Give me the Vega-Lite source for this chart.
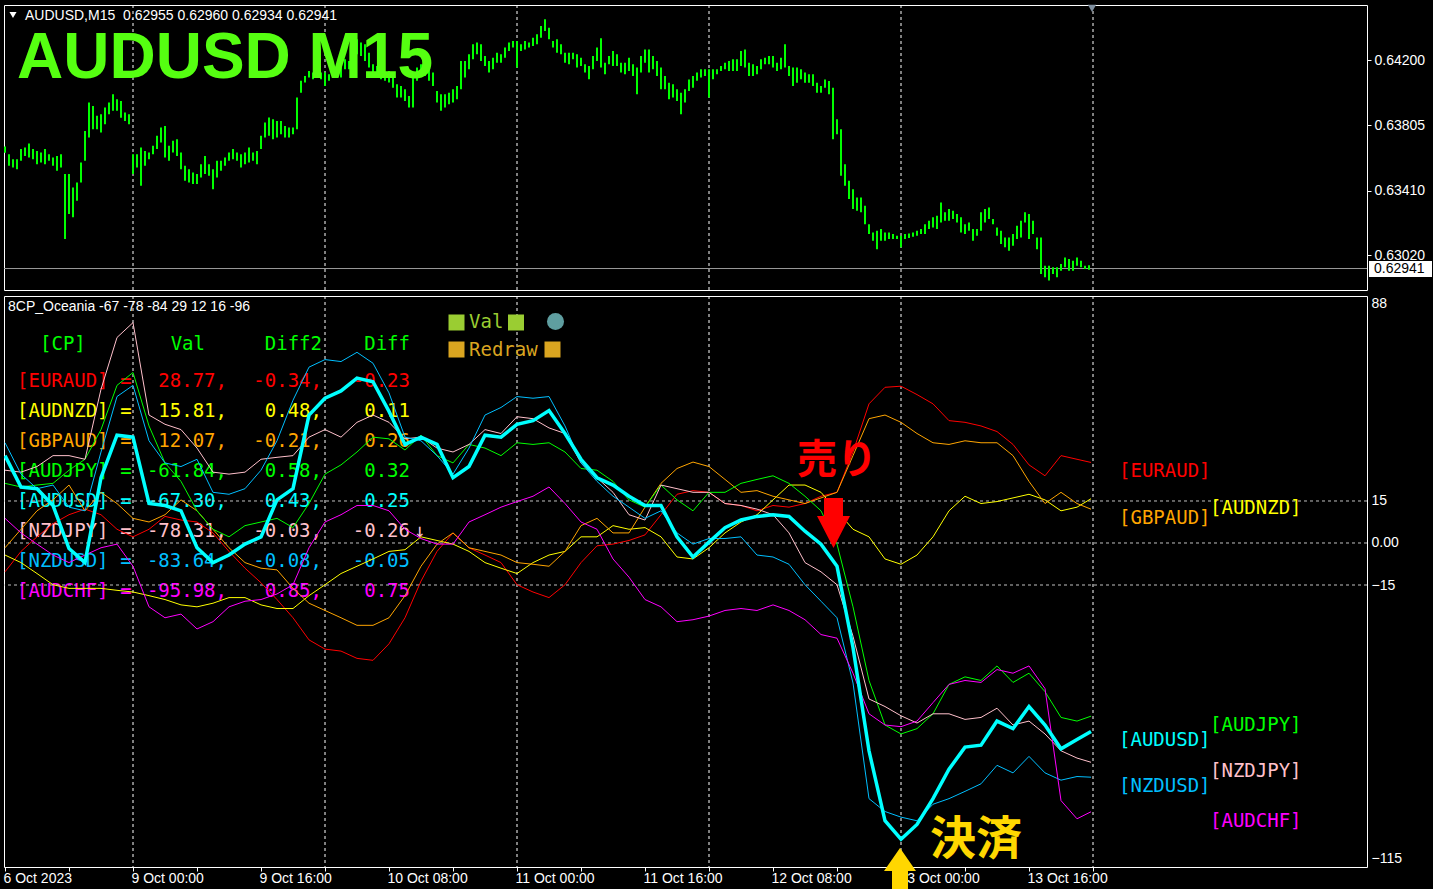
{
"$schema":"https://vega.github.io/schema/vega-lite/v6.json",
"background":"#000000",
"padding":{"left":2,"top":4,"right":0,"bottom":0},
"spacing":4,
"config":{"view":{"stroke":"#ffffff","strokeWidth":1},"axis":{"labelColor":"#ffffff","tickColor":"#ffffff","domain":false,"grid":false,"labelFont":"Liberation Sans","labelFontSize":14}},
"datasets":{
"seps":[{"t":64},{"t":160},{"t":256},{"t":352},{"t":448},{"t":544}],
"levels":[{"v":15},{"v":0},{"v":-15}],
"table":[
{"series":"EURAUD","cp":"[EURAUD]","val":"28.77,","d2":"-0.34,","d":"-0.23","m":"","last":28.77},
{"series":"AUDNZD","cp":"[AUDNZD]","val":"15.81,","d2":"0.48,","d":"0.11","m":"","last":15.81},
{"series":"GBPAUD","cp":"[GBPAUD]","val":"12.07,","d2":"-0.21,","d":"0.26","m":"","last":12.07},
{"series":"AUDJPY","cp":"[AUDJPY]","val":"-61.84,","d2":"0.58,","d":"0.32","m":"","last":-61.84},
{"series":"AUDUSD","cp":"[AUDUSD]","val":"-67.30,","d2":"0.43,","d":"0.25","m":"","last":-67.3},
{"series":"NZDJPY","cp":"[NZDJPY]","val":"-78.31,","d2":"-0.03,","d":"-0.26","m":"↓","last":-78.31},
{"series":"NZDUSD","cp":"[NZDUSD]","val":"-83.64,","d2":"-0.08,","d":"-0.05","m":"","last":-83.64},
{"series":"AUDCHF","cp":"[AUDCHF]","val":"-95.98,","d2":"0.85,","d":"0.75","m":"","last":-95.98}
],
"ind":[
{"t":0,"EURAUD":-10.3,"AUDNZD":-4.3,"GBPAUD":-1.7,"AUDJPY":21.3,"AUDUSD":31.2,"NZDJPY":26.0,"NZDUSD":35.8,"AUDCHF":8.8},
{"t":8,"EURAUD":-3.0,"AUDNZD":-7.0,"GBPAUD":4.9,"AUDJPY":20.0,"AUDUSD":20.0,"NZDJPY":25.3,"NZDUSD":24.6,"AUDCHF":3.6},
{"t":16,"EURAUD":2.2,"AUDNZD":-10.9,"GBPAUD":11.5,"AUDJPY":20.7,"AUDUSD":19.4,"NZDJPY":27.3,"NZDUSD":19.4,"AUDCHF":-0.4},
{"t":24,"EURAUD":6.9,"AUDNZD":-14.9,"GBPAUD":15.4,"AUDJPY":21.3,"AUDUSD":13.4,"NZDJPY":31.2,"NZDUSD":20.7,"AUDCHF":-4.3},
{"t":32,"EURAUD":10.1,"AUDNZD":-16.2,"GBPAUD":20.7,"AUDJPY":26.0,"AUDUSD":-2.0,"NZDJPY":31.2,"NZDUSD":12.8,"AUDCHF":-7.0},
{"t":40,"EURAUD":12.1,"AUDNZD":-16.2,"GBPAUD":11.5,"AUDJPY":29.9,"AUDUSD":-7.0,"NZDJPY":29.9,"NZDUSD":11.5,"AUDCHF":-4.3},
{"t":48,"EURAUD":10.1,"AUDNZD":-16.2,"GBPAUD":18.1,"AUDJPY":40.5,"AUDUSD":23.3,"NZDJPY":54.9,"NZDUSD":32.5,"AUDCHF":-1.7},
{"t":56,"EURAUD":4.9,"AUDNZD":-16.9,"GBPAUD":14.1,"AUDJPY":56.3,"AUDUSD":38.5,"NZDJPY":73.4,"NZDUSD":52.3,"AUDCHF":-0.4},
{"t":64,"EURAUD":2.2,"AUDNZD":-17.5,"GBPAUD":8.8,"AUDJPY":60.9,"AUDUSD":37.8,"NZDJPY":78.7,"NZDUSD":56.3,"AUDCHF":-8.3},
{"t":72,"EURAUD":4.9,"AUDNZD":-18.8,"GBPAUD":7.5,"AUDJPY":41.8,"AUDUSD":14.1,"NZDJPY":45.7,"NZDUSD":36.5,"AUDCHF":-22.8},
{"t":80,"EURAUD":9.5,"AUDNZD":-20.2,"GBPAUD":10.1,"AUDJPY":28.6,"AUDUSD":13.4,"NZDJPY":42.4,"NZDUSD":28.6,"AUDCHF":-26.7},
{"t":88,"EURAUD":8.2,"AUDNZD":-22.1,"GBPAUD":15.4,"AUDJPY":22.0,"AUDUSD":11.5,"NZDJPY":40.5,"NZDUSD":27.3,"AUDCHF":-25.4},
{"t":96,"EURAUD":7.5,"AUDNZD":-22.8,"GBPAUD":11.5,"AUDJPY":11.5,"AUDUSD":-1.7,"NZDJPY":33.9,"NZDUSD":29.9,"AUDCHF":-30.7},
{"t":104,"EURAUD":3.6,"AUDNZD":-21.5,"GBPAUD":4.9,"AUDJPY":4.9,"AUDUSD":-7.0,"NZDJPY":25.3,"NZDUSD":18.1,"AUDCHF":-28.1},
{"t":112,"EURAUD":-3.0,"AUDNZD":-19.5,"GBPAUD":-1.7,"AUDJPY":2.2,"AUDUSD":-4.3,"NZDJPY":24.6,"NZDUSD":17.4,"AUDCHF":-22.8},
{"t":120,"EURAUD":-9.0,"AUDNZD":-19.5,"GBPAUD":-7.0,"AUDJPY":6.2,"AUDUSD":-0.4,"NZDJPY":25.3,"NZDUSD":19.4,"AUDCHF":-20.8},
{"t":128,"EURAUD":-14.2,"AUDNZD":-22.1,"GBPAUD":-9.0,"AUDJPY":7.5,"AUDUSD":2.2,"NZDJPY":29.9,"NZDUSD":26.0,"AUDCHF":-20.2},
{"t":136,"EURAUD":-20.2,"AUDNZD":-23.4,"GBPAUD":-9.6,"AUDJPY":8.8,"AUDUSD":15.4,"NZDJPY":30.6,"NZDUSD":36.5,"AUDCHF":-18.2},
{"t":144,"EURAUD":-26.7,"AUDNZD":-23.4,"GBPAUD":-16.2,"AUDJPY":5.5,"AUDUSD":19.4,"NZDJPY":31.2,"NZDUSD":51.0,"AUDCHF":-14.9},
{"t":152,"EURAUD":-34.6,"AUDNZD":-18.8,"GBPAUD":-21.5,"AUDJPY":14.1,"AUDUSD":45.7,"NZDJPY":37.8,"NZDUSD":62.8,"AUDCHF":-1.7},
{"t":160,"EURAUD":-37.9,"AUDNZD":-14.9,"GBPAUD":-24.1,"AUDJPY":24.6,"AUDUSD":51.7,"NZDJPY":40.5,"NZDUSD":65.5,"AUDCHF":7.5},
{"t":168,"EURAUD":-38.6,"AUDNZD":-10.9,"GBPAUD":-26.7,"AUDJPY":27.9,"AUDUSD":54.3,"NZDJPY":37.8,"NZDUSD":64.8,"AUDCHF":10.1},
{"t":176,"EURAUD":-41.2,"AUDNZD":-8.3,"GBPAUD":-29.4,"AUDJPY":32.5,"AUDUSD":58.9,"NZDJPY":43.1,"NZDUSD":68.1,"AUDCHF":13.4},
{"t":184,"EURAUD":-41.9,"AUDNZD":-5.7,"GBPAUD":-29.4,"AUDJPY":37.8,"AUDUSD":57.6,"NZDJPY":45.7,"NZDUSD":64.2,"AUDCHF":13.4},
{"t":192,"EURAUD":-36.0,"AUDNZD":-3.0,"GBPAUD":-26.7,"AUDJPY":37.2,"AUDUSD":47.0,"NZDJPY":43.1,"NZDUSD":53.6,"AUDCHF":11.5},
{"t":200,"EURAUD":-26.7,"AUDNZD":-2.4,"GBPAUD":-18.8,"AUDJPY":33.2,"AUDUSD":35.2,"NZDJPY":37.2,"NZDUSD":37.8,"AUDCHF":4.9},
{"t":208,"EURAUD":-13.6,"AUDNZD":2.2,"GBPAUD":-8.3,"AUDJPY":38.5,"AUDUSD":37.8,"NZDJPY":37.8,"NZDUSD":36.5,"AUDCHF":1.6},
{"t":216,"EURAUD":-3.0,"AUDNZD":0.9,"GBPAUD":-0.4,"AUDJPY":31.2,"AUDUSD":35.2,"NZDJPY":33.9,"NZDUSD":31.2,"AUDCHF":-0.4},
{"t":224,"EURAUD":3.6,"AUDNZD":-0.4,"GBPAUD":3.6,"AUDJPY":28.6,"AUDUSD":23.3,"NZDJPY":32.5,"NZDUSD":24.6,"AUDCHF":-0.4},
{"t":232,"EURAUD":-1.7,"AUDNZD":-3.0,"GBPAUD":-1.7,"AUDJPY":35.2,"AUDUSD":27.3,"NZDJPY":35.2,"NZDUSD":33.9,"AUDCHF":7.5},
{"t":240,"EURAUD":-4.3,"AUDNZD":-7.0,"GBPAUD":-3.0,"AUDJPY":33.9,"AUDUSD":38.5,"NZDJPY":40.5,"NZDUSD":45.7,"AUDCHF":10.1},
{"t":248,"EURAUD":-7.0,"AUDNZD":-9.0,"GBPAUD":-4.3,"AUDJPY":31.2,"AUDUSD":37.8,"NZDJPY":39.1,"NZDUSD":48.4,"AUDCHF":12.8},
{"t":256,"EURAUD":-14.9,"AUDNZD":-10.9,"GBPAUD":-7.0,"AUDJPY":35.8,"AUDUSD":42.4,"NZDJPY":45.1,"NZDUSD":52.3,"AUDCHF":14.8},
{"t":264,"EURAUD":-17.5,"AUDNZD":-7.0,"GBPAUD":-7.6,"AUDJPY":35.2,"AUDUSD":43.7,"NZDJPY":44.4,"NZDUSD":51.7,"AUDCHF":16.7},
{"t":272,"EURAUD":-19.5,"AUDNZD":-4.3,"GBPAUD":-8.3,"AUDJPY":35.8,"AUDUSD":47.3,"NZDJPY":41.1,"NZDUSD":52.3,"AUDCHF":20.0},
{"t":280,"EURAUD":-14.9,"AUDNZD":-3.0,"GBPAUD":-3.0,"AUDJPY":32.5,"AUDUSD":39.1,"NZDJPY":39.1,"NZDUSD":41.8,"AUDCHF":14.1},
{"t":288,"EURAUD":-7.0,"AUDNZD":2.2,"GBPAUD":6.2,"AUDJPY":26.6,"AUDUSD":29.9,"NZDJPY":28.6,"NZDUSD":28.6,"AUDCHF":7.5},
{"t":296,"EURAUD":-1.0,"AUDNZD":2.2,"GBPAUD":8.8,"AUDJPY":26.0,"AUDUSD":23.3,"NZDJPY":23.3,"NZDUSD":22.0,"AUDCHF":4.9},
{"t":304,"EURAUD":-0.4,"AUDNZD":6.2,"GBPAUD":3.6,"AUDJPY":22.0,"AUDUSD":20.7,"NZDJPY":18.1,"NZDUSD":16.7,"AUDCHF":-5.7},
{"t":312,"EURAUD":0.9,"AUDNZD":4.9,"GBPAUD":3.6,"AUDJPY":15.4,"AUDUSD":16.7,"NZDJPY":10.1,"NZDUSD":12.8,"AUDCHF":-12.2},
{"t":320,"EURAUD":2.9,"AUDNZD":5.5,"GBPAUD":12.8,"AUDJPY":12.8,"AUDUSD":13.4,"NZDJPY":8.2,"NZDUSD":8.8,"AUDCHF":-20.2},
{"t":328,"EURAUD":10.1,"AUDNZD":2.2,"GBPAUD":21.3,"AUDJPY":20.7,"AUDUSD":13.4,"NZDJPY":20.7,"NZDUSD":11.5,"AUDCHF":-22.8},
{"t":336,"EURAUD":17.4,"AUDNZD":-5.0,"GBPAUD":26.6,"AUDJPY":15.4,"AUDUSD":2.2,"NZDJPY":19.4,"NZDUSD":3.6,"AUDCHF":-28.1},
{"t":344,"EURAUD":18.7,"AUDNZD":-5.7,"GBPAUD":28.9,"AUDJPY":11.5,"AUDUSD":-5.0,"NZDJPY":18.1,"NZDUSD":-0.4,"AUDCHF":-27.4},
{"t":352,"EURAUD":18.1,"AUDNZD":-1.7,"GBPAUD":27.3,"AUDJPY":18.1,"AUDUSD":0.3,"NZDJPY":18.1,"NZDUSD":1.6,"AUDCHF":-26.1},
{"t":360,"EURAUD":14.1,"AUDNZD":3.6,"GBPAUD":22.7,"AUDJPY":18.1,"AUDUSD":5.5,"NZDJPY":14.1,"NZDUSD":1.6,"AUDCHF":-24.1},
{"t":368,"EURAUD":13.4,"AUDNZD":7.5,"GBPAUD":18.1,"AUDJPY":21.3,"AUDUSD":8.2,"NZDJPY":13.4,"NZDUSD":2.2,"AUDCHF":-23.4},
{"t":376,"EURAUD":11.5,"AUDNZD":10.1,"GBPAUD":18.7,"AUDJPY":22.7,"AUDUSD":9.5,"NZDJPY":12.1,"NZDUSD":-4.3,"AUDCHF":-24.1},
{"t":384,"EURAUD":13.4,"AUDNZD":15.4,"GBPAUD":16.7,"AUDJPY":24.0,"AUDUSD":10.1,"NZDJPY":10.1,"NZDUSD":-5.0,"AUDCHF":-22.1},
{"t":392,"EURAUD":12.8,"AUDNZD":20.7,"GBPAUD":15.4,"AUDJPY":21.3,"AUDUSD":9.5,"NZDJPY":3.6,"NZDUSD":-7.6,"AUDCHF":-24.1},
{"t":400,"EURAUD":14.1,"AUDNZD":20.7,"GBPAUD":14.1,"AUDJPY":16.7,"AUDUSD":4.2,"NZDJPY":-7.0,"NZDUSD":-14.9,"AUDCHF":-27.4},
{"t":408,"EURAUD":16.7,"AUDNZD":18.1,"GBPAUD":16.1,"AUDJPY":11.5,"AUDUSD":-0.4,"NZDJPY":-10.3,"NZDUSD":-20.8,"AUDCHF":-32.7},
{"t":416,"EURAUD":18.1,"AUDNZD":11.5,"GBPAUD":18.1,"AUDJPY":-0.4,"AUDUSD":-8.3,"NZDJPY":-14.9,"NZDUSD":-26.7,"AUDCHF":-34.0},
{"t":424,"EURAUD":32.5,"AUDNZD":4.9,"GBPAUD":31.2,"AUDJPY":-22.8,"AUDUSD":-37.3,"NZDJPY":-33.3,"NZDUSD":-50.0,"AUDCHF":-46.5},
{"t":432,"EURAUD":49.7,"AUDNZD":2.2,"GBPAUD":44.4,"AUDJPY":-49.1,"AUDUSD":-74.2,"NZDJPY":-55.7,"NZDUSD":-91.3,"AUDCHF":-61.0},
{"t":440,"EURAUD":55.6,"AUDNZD":-5.7,"GBPAUD":45.7,"AUDJPY":-65.0,"AUDUSD":-99.2,"NZDJPY":-58.4,"NZDUSD":-95.9,"AUDCHF":-65.0},
{"t":448,"EURAUD":56.0,"AUDNZD":-7.6,"GBPAUD":43.1,"AUDJPY":-68.2,"AUDUSD":-105.8,"NZDJPY":-61.7,"NZDUSD":-97.9,"AUDCHF":-65.6},
{"t":456,"EURAUD":53.0,"AUDNZD":-4.3,"GBPAUD":39.1,"AUDJPY":-66.3,"AUDUSD":-100.5,"NZDJPY":-64.3,"NZDUSD":-99.2,"AUDCHF":-63.6},
{"t":464,"EURAUD":49.7,"AUDNZD":2.2,"GBPAUD":35.8,"AUDJPY":-61.0,"AUDUSD":-91.3,"NZDJPY":-61.0,"NZDUSD":-93.3,"AUDCHF":-57.0},
{"t":472,"EURAUD":43.7,"AUDNZD":11.5,"GBPAUD":35.2,"AUDJPY":-50.5,"AUDUSD":-80.8,"NZDJPY":-61.0,"NZDUSD":-91.3,"AUDCHF":-50.5},
{"t":480,"EURAUD":43.1,"AUDNZD":16.7,"GBPAUD":36.5,"AUDJPY":-47.8,"AUDUSD":-72.9,"NZDJPY":-63.0,"NZDUSD":-88.7,"AUDCHF":-49.1},
{"t":488,"EURAUD":41.8,"AUDNZD":14.1,"GBPAUD":35.8,"AUDJPY":-49.1,"AUDUSD":-72.2,"NZDJPY":-62.3,"NZDUSD":-86.0,"AUDCHF":-49.8},
{"t":496,"EURAUD":39.8,"AUDNZD":14.8,"GBPAUD":35.8,"AUDJPY":-43.9,"AUDUSD":-63.6,"NZDJPY":-59.0,"NZDUSD":-79.4,"AUDCHF":-45.2},
{"t":504,"EURAUD":35.2,"AUDNZD":16.1,"GBPAUD":31.2,"AUDJPY":-49.8,"AUDUSD":-66.3,"NZDJPY":-65.0,"NZDUSD":-82.1,"AUDCHF":-46.5},
{"t":512,"EURAUD":27.9,"AUDNZD":17.4,"GBPAUD":22.0,"AUDJPY":-46.5,"AUDUSD":-58.4,"NZDJPY":-63.6,"NZDUSD":-76.2,"AUDCHF":-43.9},
{"t":520,"EURAUD":24.0,"AUDNZD":15.4,"GBPAUD":14.1,"AUDJPY":-53.1,"AUDUSD":-65.0,"NZDJPY":-68.2,"NZDUSD":-82.1,"AUDCHF":-52.0},
{"t":528,"EURAUD":31.2,"AUDNZD":11.5,"GBPAUD":18.1,"AUDJPY":-62.3,"AUDUSD":-73.5,"NZDJPY":-74.2,"NZDUSD":-84.7,"AUDCHF":-92.0},
{"t":536,"EURAUD":29.9,"AUDNZD":12.8,"GBPAUD":14.1,"AUDJPY":-63.6,"AUDUSD":-70.2,"NZDJPY":-76.8,"NZDUSD":-83.4,"AUDCHF":-98.5},
{"t":543,"EURAUD":28.77,"AUDNZD":15.81,"GBPAUD":12.07,"AUDJPY":-61.84,"AUDUSD":-67.3,"NZDJPY":-78.31,"NZDUSD":-83.64,"AUDCHF":-95.98}
],
"price":[
{"t":0,"h":0.63677,"l":0.6364},{"t":2,"h":0.63631,"l":0.63561},{"t":4,"h":0.63601,"l":0.63551},{"t":6,"h":0.63601,"l":0.63541},{"t":8,"h":0.63662,"l":0.63591},{"t":10,"h":0.63672,"l":0.63621},{"t":12,"h":0.63696,"l":0.63611},{"t":14,"h":0.63662,"l":0.63601},{"t":16,"h":0.63651,"l":0.63571},{"t":18,"h":0.63641,"l":0.63581},
{"t":20,"h":0.63662,"l":0.63571},{"t":22,"h":0.63631,"l":0.63591},{"t":24,"h":0.63611,"l":0.63561},{"t":26,"h":0.63621,"l":0.63531},{"t":28,"h":0.63631,"l":0.63551},{"t":30,"h":0.63511,"l":0.63119},{"t":32,"h":0.63511,"l":0.6327},{"t":34,"h":0.6343,"l":0.6325},{"t":36,"h":0.63461,"l":0.6335},{"t":38,"h":0.63581,"l":0.63461},
{"t":40,"h":0.63772,"l":0.63591},{"t":42,"h":0.63943,"l":0.63732},{"t":44,"h":0.63923,"l":0.63782},{"t":46,"h":0.63863,"l":0.63782},{"t":48,"h":0.63873,"l":0.63762},{"t":50,"h":0.63913,"l":0.63812},{"t":52,"h":0.63943,"l":0.63873},{"t":54,"h":0.63993,"l":0.63893},{"t":56,"h":0.63963,"l":0.63893},{"t":58,"h":0.63953,"l":0.63852},
{"t":60,"h":0.63883,"l":0.63832},{"t":62,"h":0.63873,"l":0.63812},{"t":64,"h":0.63631,"l":0.63511},{"t":66,"h":0.63631,"l":0.63551},{"t":68,"h":0.63672,"l":0.6344},{"t":70,"h":0.63651,"l":0.63561},{"t":72,"h":0.63641,"l":0.63601},{"t":74,"h":0.63682,"l":0.63631},{"t":76,"h":0.63742,"l":0.63662},{"t":78,"h":0.63792,"l":0.63702},
{"t":80,"h":0.63802,"l":0.63611},{"t":82,"h":0.63682,"l":0.63591},{"t":84,"h":0.63712,"l":0.63641},{"t":86,"h":0.63722,"l":0.63621},{"t":88,"h":0.63641,"l":0.63541},{"t":90,"h":0.63561,"l":0.63471},{"t":92,"h":0.63541,"l":0.63461},{"t":94,"h":0.63521,"l":0.63451},{"t":96,"h":0.63511,"l":0.63451},{"t":98,"h":0.63571,"l":0.63491},
{"t":100,"h":0.63621,"l":0.63511},{"t":102,"h":0.63571,"l":0.63501},{"t":104,"h":0.63541,"l":0.6342},{"t":106,"h":0.63591,"l":0.63491},{"t":108,"h":0.63591,"l":0.63531},{"t":110,"h":0.63611,"l":0.63561},{"t":112,"h":0.63641,"l":0.63591},{"t":114,"h":0.63662,"l":0.63601},{"t":116,"h":0.63641,"l":0.63591},{"t":118,"h":0.63631,"l":0.63551},
{"t":120,"h":0.63641,"l":0.63571},{"t":122,"h":0.63672,"l":0.63581},{"t":124,"h":0.63641,"l":0.63591},{"t":126,"h":0.63651,"l":0.63571},{"t":128,"h":0.63742,"l":0.63662},{"t":130,"h":0.63822,"l":0.63732},{"t":132,"h":0.63853,"l":0.63742},{"t":134,"h":0.63842,"l":0.63722},{"t":136,"h":0.63832,"l":0.63732},{"t":138,"h":0.63832,"l":0.63752},
{"t":140,"h":0.63802,"l":0.63732},{"t":142,"h":0.63792,"l":0.63732},{"t":144,"h":0.63792,"l":0.63752},{"t":146,"h":0.63973,"l":0.63782},{"t":148,"h":0.64074,"l":0.64003},{"t":150,"h":0.64104,"l":0.64064},{"t":152,"h":0.64134,"l":0.64094},{"t":154,"h":0.64124,"l":0.64084},{"t":156,"h":0.64134,"l":0.64094},{"t":158,"h":0.64124,"l":0.64084},
{"t":160,"h":0.64124,"l":0.64043},{"t":162,"h":0.64114,"l":0.64074},{"t":164,"h":0.64134,"l":0.64094},{"t":166,"h":0.64134,"l":0.64094},{"t":168,"h":0.64164,"l":0.64094},{"t":170,"h":0.64204,"l":0.64144},{"t":172,"h":0.64194,"l":0.64144},{"t":174,"h":0.64234,"l":0.64154},{"t":176,"h":0.64325,"l":0.64234},{"t":178,"h":0.64305,"l":0.64224},
{"t":180,"h":0.64295,"l":0.64194},{"t":182,"h":0.64244,"l":0.64154},{"t":184,"h":0.64174,"l":0.64114},{"t":186,"h":0.64164,"l":0.64104},{"t":188,"h":0.64134,"l":0.64084},{"t":190,"h":0.64124,"l":0.64074},{"t":192,"h":0.64134,"l":0.64064},{"t":194,"h":0.64094,"l":0.64033},{"t":196,"h":0.64053,"l":0.63973},{"t":198,"h":0.64043,"l":0.63973},
{"t":200,"h":0.64023,"l":0.63953},{"t":202,"h":0.63983,"l":0.63913},{"t":204,"h":0.64094,"l":0.63913},{"t":206,"h":0.64154,"l":0.64074},{"t":208,"h":0.64174,"l":0.64124},{"t":210,"h":0.64164,"l":0.64104},{"t":212,"h":0.64154,"l":0.64074},{"t":214,"h":0.64124,"l":0.64043},{"t":216,"h":0.64013,"l":0.63943},{"t":218,"h":0.63993,"l":0.63893},
{"t":220,"h":0.63993,"l":0.63913},{"t":222,"h":0.64003,"l":0.63933},{"t":224,"h":0.64023,"l":0.63943},{"t":226,"h":0.64043,"l":0.63963},{"t":228,"h":0.64194,"l":0.64023},{"t":230,"h":0.64194,"l":0.64094},{"t":232,"h":0.64234,"l":0.64144},{"t":234,"h":0.64295,"l":0.64204},{"t":236,"h":0.64305,"l":0.64234},{"t":238,"h":0.64295,"l":0.64194},
{"t":240,"h":0.64224,"l":0.64164},{"t":242,"h":0.64194,"l":0.64124},{"t":244,"h":0.64214,"l":0.64144},{"t":246,"h":0.64244,"l":0.64184},{"t":248,"h":0.64234,"l":0.64184},{"t":250,"h":0.64275,"l":0.64214},{"t":252,"h":0.64305,"l":0.64254},{"t":254,"h":0.64315,"l":0.64275},{"t":256,"h":0.64315,"l":0.64154},{"t":258,"h":0.64295,"l":0.64254},
{"t":260,"h":0.64315,"l":0.64264},{"t":262,"h":0.64305,"l":0.64275},{"t":264,"h":0.64335,"l":0.64285},{"t":266,"h":0.64355,"l":0.64295},{"t":268,"h":0.64405,"l":0.64335},{"t":270,"h":0.64446,"l":0.64375},{"t":272,"h":0.64395,"l":0.64325},{"t":274,"h":0.64315,"l":0.64275},{"t":276,"h":0.64325,"l":0.64244},{"t":278,"h":0.64295,"l":0.64234},
{"t":280,"h":0.64244,"l":0.64184},{"t":282,"h":0.64244,"l":0.64174},{"t":284,"h":0.64244,"l":0.64204},{"t":286,"h":0.64234,"l":0.64154},{"t":288,"h":0.64214,"l":0.64164},{"t":290,"h":0.64174,"l":0.64124},{"t":292,"h":0.64164,"l":0.64084},{"t":294,"h":0.64224,"l":0.64144},{"t":296,"h":0.64275,"l":0.64194},{"t":298,"h":0.64331,"l":0.64154},
{"t":300,"h":0.64184,"l":0.64114},{"t":302,"h":0.64224,"l":0.64174},{"t":304,"h":0.64254,"l":0.64164},{"t":306,"h":0.64234,"l":0.64164},{"t":308,"h":0.64184,"l":0.64124},{"t":310,"h":0.64184,"l":0.64114},{"t":312,"h":0.64214,"l":0.64134},{"t":314,"h":0.64174,"l":0.64104},{"t":316,"h":0.64154,"l":0.63993},{"t":318,"h":0.64224,"l":0.64124},
{"t":320,"h":0.64264,"l":0.64184},{"t":322,"h":0.64264,"l":0.64124},{"t":324,"h":0.64224,"l":0.64144},{"t":326,"h":0.64194,"l":0.64104},{"t":328,"h":0.64154,"l":0.64023},{"t":330,"h":0.64104,"l":0.64023},{"t":332,"h":0.64063,"l":0.63963},{"t":334,"h":0.64053,"l":0.63973},{"t":336,"h":0.64023,"l":0.63953},{"t":338,"h":0.64003,"l":0.63873},
{"t":340,"h":0.64023,"l":0.63943},{"t":342,"h":0.64083,"l":0.64013},{"t":344,"h":0.64104,"l":0.64033},{"t":346,"h":0.64124,"l":0.64074},{"t":348,"h":0.64144,"l":0.64094},{"t":350,"h":0.64144,"l":0.64104},{"t":352,"h":0.64144,"l":0.63973},{"t":354,"h":0.64144,"l":0.64084},{"t":356,"h":0.64144,"l":0.64114},{"t":358,"h":0.64164,"l":0.64134},
{"t":360,"h":0.64184,"l":0.64144},{"t":362,"h":0.64194,"l":0.64134},{"t":364,"h":0.64204,"l":0.64134},{"t":366,"h":0.64204,"l":0.64134},{"t":368,"h":0.64254,"l":0.64164},{"t":370,"h":0.64264,"l":0.64154},{"t":372,"h":0.64184,"l":0.64104},{"t":374,"h":0.64174,"l":0.64104},{"t":376,"h":0.64164,"l":0.64114},{"t":378,"h":0.64204,"l":0.64144},
{"t":380,"h":0.64214,"l":0.64174},{"t":382,"h":0.64224,"l":0.64174},{"t":384,"h":0.64224,"l":0.64154},{"t":386,"h":0.64184,"l":0.64134},{"t":388,"h":0.64214,"l":0.64144},{"t":390,"h":0.64295,"l":0.64154},{"t":392,"h":0.64164,"l":0.64104},{"t":394,"h":0.64154,"l":0.64043},{"t":396,"h":0.64154,"l":0.64063},{"t":398,"h":0.64144,"l":0.64084},
{"t":400,"h":0.64124,"l":0.64063},{"t":402,"h":0.64114,"l":0.64063},{"t":404,"h":0.64114,"l":0.64043},{"t":406,"h":0.64063,"l":0.64003},{"t":408,"h":0.64043,"l":0.64003},{"t":410,"h":0.64083,"l":0.64033},{"t":412,"h":0.64073,"l":0.63993},{"t":414,"h":0.64033,"l":0.63722},{"t":416,"h":0.63842,"l":0.63752},{"t":418,"h":0.63782,"l":0.63501},
{"t":420,"h":0.63571,"l":0.6344},{"t":422,"h":0.63471,"l":0.6336},{"t":424,"h":0.6342,"l":0.633},{"t":426,"h":0.6337,"l":0.6329},{"t":428,"h":0.6337,"l":0.6328},{"t":430,"h":0.6332,"l":0.63209},{"t":432,"h":0.63209,"l":0.63149},{"t":434,"h":0.63159,"l":0.63109},{"t":436,"h":0.63169,"l":0.63058},{"t":438,"h":0.63179,"l":0.63109},
{"t":440,"h":0.63159,"l":0.63109},{"t":442,"h":0.63159,"l":0.63119},{"t":444,"h":0.63149,"l":0.63119},{"t":446,"h":0.63139,"l":0.63119},{"t":448,"h":0.63139,"l":0.63069},{"t":450,"h":0.63149,"l":0.63119},{"t":452,"h":0.63153,"l":0.63125},{"t":454,"h":0.63159,"l":0.63133},{"t":456,"h":0.63169,"l":0.63139},{"t":458,"h":0.63179,"l":0.63149},
{"t":460,"h":0.63209,"l":0.63149},{"t":462,"h":0.63229,"l":0.63179},{"t":464,"h":0.6325,"l":0.63189},{"t":466,"h":0.6326,"l":0.63179},{"t":468,"h":0.6334,"l":0.63219},{"t":470,"h":0.6328,"l":0.63229},{"t":472,"h":0.633,"l":0.63229},{"t":474,"h":0.6329,"l":0.6324},{"t":476,"h":0.6327,"l":0.63219},{"t":478,"h":0.6325,"l":0.63159},
{"t":480,"h":0.63209,"l":0.63149},{"t":482,"h":0.63219,"l":0.63169},{"t":484,"h":0.63179,"l":0.63109},{"t":486,"h":0.63179,"l":0.63139},{"t":488,"h":0.6328,"l":0.63169},{"t":490,"h":0.633,"l":0.63219},{"t":492,"h":0.6331,"l":0.6324},{"t":494,"h":0.6324,"l":0.63209},{"t":496,"h":0.63189,"l":0.63139},{"t":498,"h":0.63169,"l":0.63089},
{"t":500,"h":0.63129,"l":0.63069},{"t":502,"h":0.63129,"l":0.63048},{"t":504,"h":0.63149,"l":0.63079},{"t":506,"h":0.63199,"l":0.63119},{"t":508,"h":0.6323,"l":0.63129},{"t":510,"h":0.6328,"l":0.63219},{"t":512,"h":0.6327,"l":0.63119},{"t":514,"h":0.6323,"l":0.63149},{"t":516,"h":0.63129,"l":0.63058},{"t":518,"h":0.63129,"l":0.62908},
{"t":520,"h":0.62958,"l":0.62888},{"t":522,"h":0.62958,"l":0.62868},{"t":524,"h":0.62948,"l":0.62908},{"t":526,"h":0.62948,"l":0.62888},{"t":528,"h":0.62968,"l":0.62928},{"t":530,"h":0.63008,"l":0.62948},{"t":532,"h":0.62998,"l":0.62928},{"t":534,"h":0.62988,"l":0.62928},{"t":536,"h":0.63008,"l":0.62958},{"t":538,"h":0.62988,"l":0.62948},
{"t":540,"h":0.62958,"l":0.62938},{"t":542,"h":0.6296,"l":0.62934}
]
},
"vconcat":[
{
"width":1363,"height":285,
"layer":[
{"data":{"name":"seps"},"mark":{"type":"rule","color":"#ffffff","strokeDash":[3,3],"strokeWidth":1},"encoding":{"x":{"field":"t","type":"quantitative","axis":null,"title":null}}},
{"data":{"values":[{}]},"mark":{"type":"rule","color":"#9a9a9a","strokeWidth":1},"encoding":{"y":{"datum":0.62941}}},
{"data":{"name":"price"},"mark":{"type":"rule","color":"#00ff00","strokeWidth":2,"clip":true},"encoding":{
"x":{"field":"t","type":"quantitative","scale":{"domain":[-0.5,681],"nice":false,"zero":false},"axis":null,"title":null},
"y":{"field":"h","type":"quantitative","scale":{"domain":[0.628113,0.645321],"nice":false,"zero":false},"axis":{"orient":"right","values":[0.642,0.63805,0.6341,0.6302],"format":".5f","tickSize":4,"labelPadding":3,"title":null},"title":null},
"y2":{"field":"l"}}},
{"data":{"values":[{}]},"mark":{"type":"text","text":"AUDUSD M15","align":"left","baseline":"alphabetic","font":"Liberation Sans","fontWeight":"bold","fontSize":64,"color":"#55ff11"},"encoding":{"x":{"datum":6,"axis":null},"y":{"datum":0.640913}}},
{"data":{"values":[{}]},"mark":{"type":"point","shape":"triangle-down","filled":true,"opacity":1,"size":50,"color":"#ffffff"},"encoding":{"x":{"datum":4,"axis":null},"y":{"datum":0.64472}}},
{"data":{"values":[{}]},"mark":{"type":"text","text":"AUDUSD,M15\u00a0\u00a00.62955 0.62960 0.62934 0.62941","align":"left","baseline":"middle","font":"Liberation Sans","fontSize":14,"color":"#ffffff"},"encoding":{"x":{"datum":10,"axis":null},"y":{"datum":0.644657}}},
{"data":{"values":[{}]},"mark":{"type":"point","shape":"triangle-down","filled":true,"opacity":1,"size":70,"color":"#7f8fa0"},"encoding":{"x":{"datum":543.5,"axis":null},"y":{"datum":0.64511}}},
{"data":{"values":[{}]},"mark":{"type":"rect","color":"#ffffff"},"encoding":{"x":{"datum":682,"axis":null},"x2":{"datum":713.5},"y":{"datum":0.629864},"y2":{"datum":0.628898}}},
{"data":{"values":[{}]},"mark":{"type":"text","text":"0.62941","align":"left","baseline":"middle","font":"Liberation Sans","fontSize":14,"color":"#000000"},"encoding":{"x":{"datum":684.5,"axis":null},"y":{"datum":0.62938}}}
]
},
{
"width":1363,"height":571,
"resolve":{"scale":{"y":"independent"}},
"layer":[
{"data":{"name":"table"},
"encoding":{
"y":{"field":"series","type":"nominal","scale":{"type":"point","domain":["_1","_2","EURAUD","AUDNZD","GBPAUD","AUDJPY","AUDUSD","NZDJPY","NZDUSD","AUDCHF","_3","_4","_5","_6","_7","_8","_9","_10"],"padding":1,"align":0.4143},"axis":null},
"color":{"field":"series","type":"nominal","scale":{"domain":["EURAUD","AUDNZD","GBPAUD","AUDJPY","AUDUSD","NZDJPY","NZDUSD","AUDCHF"],"range":["#ff0000","#ffff00","#ffa500","#00ff00","#00ffff","#ffc0cb","#00bfff","#ff00ff"]},"legend":null}},
"layer":[
{"mark":{"type":"text","align":"left","baseline":"middle","font":"DejaVu Sans Mono","fontSize":19},"encoding":{"x":{"datum":6},"text":{"field":"cp"}}},
{"mark":{"type":"text","align":"center","baseline":"middle","font":"DejaVu Sans Mono","fontSize":19,"text":"="},"encoding":{"x":{"datum":60.5}}},
{"mark":{"type":"text","align":"right","baseline":"middle","font":"DejaVu Sans Mono","fontSize":19},"encoding":{"x":{"datum":111},"text":{"field":"val"}}},
{"mark":{"type":"text","align":"right","baseline":"middle","font":"DejaVu Sans Mono","fontSize":19},"encoding":{"x":{"datum":158.5},"text":{"field":"d2"}}},
{"mark":{"type":"text","align":"right","baseline":"middle","font":"DejaVu Sans Mono","fontSize":19},"encoding":{"x":{"datum":202.5},"text":{"field":"d"}}},
{"mark":{"type":"text","align":"left","baseline":"middle","font":"DejaVu Sans Mono","fontSize":19},"encoding":{"x":{"datum":204.5},"text":{"field":"m"}}}
]},
{"layer":[
{"data":{"name":"levels"},"mark":{"type":"rule","color":"#c0c0c0","strokeDash":[3,3],"strokeWidth":1},"encoding":{"y":{"field":"v","type":"quantitative","title":null}}},
{"data":{"name":"seps"},"mark":{"type":"rule","color":"#ffffff","strokeDash":[3,3],"strokeWidth":1},"encoding":{"x":{"field":"t","type":"quantitative","title":null}}},
{"data":{"values":[{}]},"mark":{"type":"text","text":"8CP_Oceania -67 -78 -84 29 12 16 -96","align":"left","baseline":"middle","font":"Liberation Sans","fontSize":14,"color":"#ffffff"},"encoding":{"x":{"datum":1.5},"y":{"datum":84.3}}},
{"data":{"values":[{}]},"mark":{"type":"text","text":"[CP]","align":"left","baseline":"middle","font":"DejaVu Sans Mono","fontSize":19,"color":"#00ff00"},"encoding":{"x":{"datum":17.5},"y":{"datum":71.07}}},
{"data":{"values":[{}]},"mark":{"type":"text","text":"Val","align":"right","baseline":"middle","font":"DejaVu Sans Mono","fontSize":19,"color":"#00ff00"},"encoding":{"x":{"datum":100},"y":{"datum":71.07}}},
{"data":{"values":[{}]},"mark":{"type":"text","text":"Diff2","align":"right","baseline":"middle","font":"DejaVu Sans Mono","fontSize":19,"color":"#00ff00"},"encoding":{"x":{"datum":158.5},"y":{"datum":71.07}}},
{"data":{"values":[{}]},"mark":{"type":"text","text":"Diff","align":"right","baseline":"middle","font":"DejaVu Sans Mono","fontSize":19,"color":"#00ff00"},"encoding":{"x":{"datum":202.5},"y":{"datum":71.07}}},
{"data":{"values":[{}]},"mark":{"type":"point","shape":"square","filled":true,"opacity":1,"size":256,"color":"#9acd32"},"encoding":{"x":{"datum":225.75},"y":{"datum":78.75}}},
{"data":{"values":[{}]},"mark":{"type":"text","text":"Val","align":"left","baseline":"middle","font":"DejaVu Sans Mono","fontSize":19,"color":"#9acd32"},"encoding":{"x":{"datum":232},"y":{"datum":78.75}}},
{"data":{"values":[{}]},"mark":{"type":"point","shape":"square","filled":true,"opacity":1,"size":256,"color":"#9acd32"},"encoding":{"x":{"datum":255.5},"y":{"datum":78.75}}},
{"data":{"values":[{}]},"mark":{"type":"point","shape":"circle","filled":true,"opacity":1,"size":290,"color":"#5f9ea0"},"encoding":{"x":{"datum":275.25},"y":{"datum":79.1}}},
{"data":{"values":[{}]},"mark":{"type":"point","shape":"square","filled":true,"opacity":1,"size":256,"color":"#daa520"},"encoding":{"x":{"datum":225.75},"y":{"datum":69.1}}},
{"data":{"values":[{}]},"mark":{"type":"text","text":"Redraw","align":"left","baseline":"middle","font":"DejaVu Sans Mono","fontSize":19,"color":"#daa520"},"encoding":{"x":{"datum":232},"y":{"datum":69.1}}},
{"data":{"values":[{}]},"mark":{"type":"point","shape":"square","filled":true,"opacity":1,"size":256,"color":"#daa520"},"encoding":{"x":{"datum":273.75},"y":{"datum":69.1}}},
{"data":{"name":"ind"},"transform":[{"fold":["EURAUD","AUDNZD","GBPAUD","AUDJPY","NZDJPY","NZDUSD","AUDCHF"],"as":["series","v"]}],
"mark":{"type":"line","strokeWidth":1,"clip":true},
"encoding":{
"x":{"field":"t","type":"quantitative","scale":{"domain":[-0.5,681],"nice":false,"zero":false},"axis":{"orient":"bottom","values":[0,32,64,96,128,160,192,224,256,288,320,352,384,416,448,480,512,544],"labelExpr":"datum.value % 64 == 0 ? ['6 Oct 2023','9 Oct 00:00','9 Oct 16:00','10 Oct 08:00','11 Oct 00:00','11 Oct 16:00','12 Oct 08:00','13 Oct 00:00','13 Oct 16:00'][datum.value/64] : ''","labelAlign":"left","labelBaseline":"top","labelOffset":-2,"tickSize":4,"labelPadding":0,"labelOverlap":false,"title":null},"title":null},
"y":{"field":"v","type":"quantitative","scale":{"domain":[-115.71,88.21],"nice":false,"zero":false},"axis":{"orient":"right","values":[88,15,0,-15,-115],"labelExpr":"datum.value == 0 ? '0.00' : datum.label","ticks":false,"labelPadding":4,"labelFlush":4,"title":null},"title":null},
"color":{"field":"series","type":"nominal","scale":{"domain":["EURAUD","AUDNZD","GBPAUD","AUDJPY","AUDUSD","NZDJPY","NZDUSD","AUDCHF"],"range":["#ff0000","#ffff00","#ffa500","#00ff00","#00ffff","#ffc0cb","#00bfff","#ff00ff"]},"legend":null}}},
{"data":{"name":"ind"},"mark":{"type":"line","strokeWidth":3.5,"color":"#00ffff","clip":true},"encoding":{"x":{"field":"t","type":"quantitative","title":null},"y":{"field":"AUDUSD","type":"quantitative","title":null}}},
{"data":{"name":"table"},"transform":[{"filter":{"field":"series","oneOf":["EURAUD","GBPAUD","AUDUSD","NZDUSD"]}}],"mark":{"type":"text","align":"left","baseline":"top","font":"DejaVu Sans Mono","fontSize":19},"encoding":{"x":{"datum":557},"y":{"field":"last","type":"quantitative","title":null},"text":{"field":"cp"},"color":{"field":"series","type":"nominal","scale":{"domain":["EURAUD","AUDNZD","GBPAUD","AUDJPY","AUDUSD","NZDJPY","NZDUSD","AUDCHF"],"range":["#ff0000","#ffff00","#ffa500","#00ff00","#00ffff","#ffc0cb","#00bfff","#ff00ff"]},"legend":null}}},
{"data":{"name":"table"},"transform":[{"filter":{"field":"series","oneOf":["AUDNZD","AUDJPY","NZDJPY","AUDCHF"]}}],"mark":{"type":"text","align":"left","baseline":"top","font":"DejaVu Sans Mono","fontSize":19},"encoding":{"x":{"datum":602.5},"y":{"field":"last","type":"quantitative","title":null},"text":{"field":"cp"},"color":{"field":"series","type":"nominal","scale":{"domain":["EURAUD","AUDNZD","GBPAUD","AUDJPY","AUDUSD","NZDJPY","NZDUSD","AUDCHF"],"range":["#ff0000","#ffff00","#ffa500","#00ff00","#00ffff","#ffc0cb","#00bfff","#ff00ff"]},"legend":null}}},
{"data":{"values":[{}]},"mark":{"type":"text","text":"売り","align":"left","baseline":"middle","font":"Noto Sans CJK JP","fontWeight":"bold","fontSize":40,"color":"#ff0000"},"encoding":{"x":{"datum":396},"y":{"datum":29.3}}},
{"data":{"values":[{}]},"mark":{"type":"point","shape":"M-0.38,-1L0.38,-1L0.38,-0.28L0.66,-0.28L0,1L-0.66,-0.28L-0.38,-0.28Z","filled":true,"opacity":1,"strokeWidth":0,"size":2500,"color":"#ff0000"},"encoding":{"x":{"datum":414.25},"y":{"datum":7.14}}},
{"data":{"values":[{}]},"mark":{"type":"point","shape":"M0,-1L0.64,-0.08L0.32,-0.08L0.32,1L-0.32,1L-0.32,-0.08L-0.64,-0.08Z","filled":true,"opacity":1,"strokeWidth":0,"size":2500,"color":"#ffd700"},"encoding":{"x":{"datum":447.5},"y":{"datum":-117.86}}},
{"data":{"values":[{}]},"mark":{"type":"text","text":"決済","align":"left","baseline":"middle","font":"Noto Sans CJK JP","fontWeight":"bold","fontSize":46,"color":"#ffd700"},"encoding":{"x":{"datum":462.5},"y":{"datum":-106.1}}}
]}
]
}
]
}
